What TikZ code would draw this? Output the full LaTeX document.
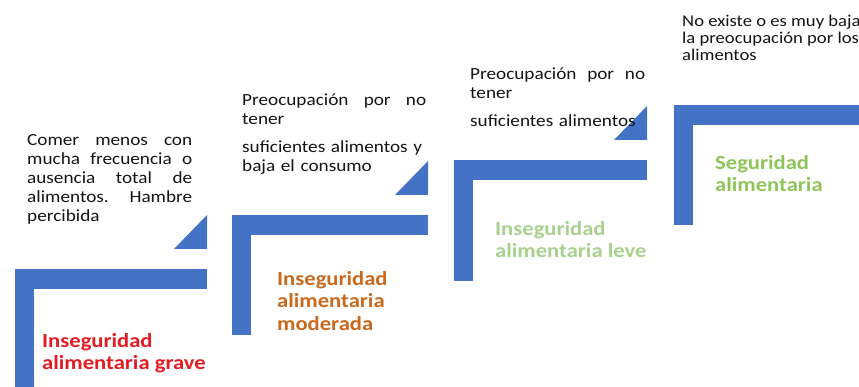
\documentclass[tikz,border=0pt]{standalone}
\usepackage{fontspec}
\setmainfont{Carlito}[FakeStretch=1.13]
\definecolor{stairblue}{HTML}{4472C4}
\definecolor{txtgray}{HTML}{141414}
\definecolor{graveRed}{HTML}{E31B23}
\definecolor{modOrange}{HTML}{C8691E}
\definecolor{leveGreen}{HTML}{A9D18E}
\definecolor{segGreen}{HTML}{8FC45A}
% linea justificada: palabras separadas por \hfill
\newcommand{\jl}[2]{\makebox[#1pt][s]{#2}}

\begin{document}
\begin{tikzpicture}[x=1pt, y=-1pt,
	desc/.style={anchor=base west, inner sep=0pt, align=left, text=txtgray, font=\fontsize{17}{19}\selectfont},
	lbl/.style={anchor=base west, inner sep=0pt, align=left, font=\fontsize{20}{22}\selectfont\bfseries}]
	\useasboundingbox (0,0) rectangle (859,387);
	% escalones
	\foreach \x/\y/\w/\h in {15/269/192/130, 232/215/196/120, 454/160/193/121, 674/105/185/120} {
		\fill[stairblue] (\x,\y) rectangle (\x+\w,\y+20);
		\fill[stairblue] (\x,\y) rectangle (\x+19,\y+\h);
	}
	\foreach \x/\y in {207/269, 428/215, 647/160} {
		\fill[stairblue] (\x-33,\y-20) -- (\x,\y-20) -- (\x,\y-54) -- cycle;
	}
	% textos
	\node[desc, text width=165] (descGrave) at (27,146) {\jl{165}{Comer\hfill menos\hfill con}\\ \jl{165}{mucha\hfill frecuencia\hfill o}\\ \jl{165}{ausencia\hfill total\hfill de}\\ \jl{165}{alimentos.\hfill Hambre}\\ percibida};
	\node[desc, text width=186] (descMod) at (242,106) {\jl{184}{Preocupación\hfill por\hfill no}\\ tener\\[9pt] suficientes alimentos y\\ baja el consumo};
	\node[desc, text width=177] (descLeve) at (470,80) {\jl{175}{Preocupación\hfill por\hfill no}\\ tener\\[9pt] suficientes alimentos};
	\node[desc, font=\fontsize{16.5}{17}\selectfont] (descSeg) at (682,61) {No existe o es muy baja\\ la preocupación por los\\ alimentos};
	\node[lbl, text=graveRed] (lblGrave) at (42,369) {Inseguridad\\ alimentaria grave};
	\node[lbl, text=modOrange] (lblMod) at (277,330) {Inseguridad\\ alimentaria\\ moderada};
	\node[lbl, text=leveGreen] (lblLeve) at (495,258) {Inseguridad\\ alimentaria leve};
	\node[lbl, text=segGreen] (lblSeg) at (715,192) {Seguridad\\ alimentaria};
\end{tikzpicture}
\end{document}
